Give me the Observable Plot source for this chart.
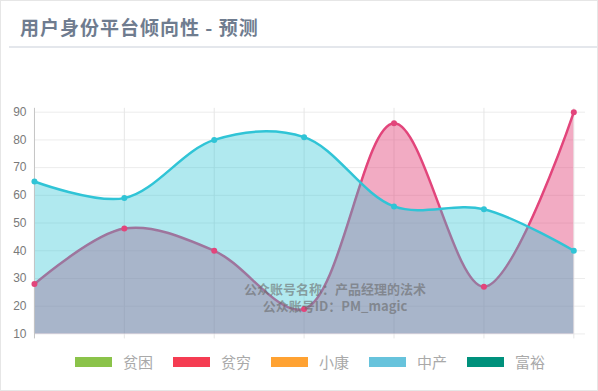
<!DOCTYPE html>
<html>
<head>
<meta charset="utf-8">
<script src="https://cdn.jsdelivr.net/npm/d3@7"></script>
<script src="https://cdn.jsdelivr.net/npm/@observablehq/plot@0.6"></script>
<style>
  html, body { margin: 0; padding: 0; background: #fff; }
  #wrap { position: relative; width: 598px; height: 391px; box-sizing: border-box; border: 1px solid #e6e6e6; overflow: hidden; font-family: "Noto Sans CJK SC", "Noto Sans", sans-serif; }
  #title { position: absolute; left: 19px; top: 13px; font-size: 19px; font-weight: bold; color: #6f7c8f; letter-spacing: 1px; line-height: 26px; }
  #rule { position: absolute; left: 8px; right: 0; top: 45px; height: 2px; background: #e4e7ec; }
  #chart { position: absolute; left: -1px; top: -1px; }
  #legend { position: absolute; left: 74px; top: 350px; display: flex; align-items: center; }
  .item { display: flex; align-items: center; margin-right: 20px; font-size: 15px; color: #a9a9a9; }
  .sw { width: 37px; height: 10px; margin-right: 11px; }
  #wm { position: absolute; left: 214px; width: 240px; top: 280px; text-align: center; font-size: 13px; font-weight: bold; color: rgba(105,105,105,0.6); line-height: 16.5px; white-space: pre-line; }
</style>
</head>
<body>
<div id="wrap">
  <div id="title"></div>
  <div id="rule"></div>
  <div id="chart"></div>
  <div id="wm"></div>
  <div id="legend"></div>
</div>
<script>
const title = "用户身份平台倾向性 - 预测";
const categories = ["1", "2", "3", "4", "5", "6", "7"];
const middleValues = [65, 59, 80, 81, 56, 55, 40];   // 中产
const poorValues = [28, 48, 40, 19, 86, 27, 90];     // 贫穷
const yTicks = [10, 20, 30, 40, 50, 60, 70, 80, 90];
const legendNames = ["贫困", "贫穷", "小康", "中产", "富裕"];
const legendColors = ["#8bc34a", "#f53c52", "#ffa232", "#67c3dc", "#00917c"];
const watermark = ["公众账号名称：产品经理的法术", "公众账号ID：PM_magic"];

document.getElementById("title").textContent = title;
document.getElementById("wm").textContent = watermark.join("\n");
document.getElementById("legend").innerHTML = legendNames.map((n, i) =>
  `<div class="item"><div class="sw" style="background:${legendColors[i]}"></div><span>${n}</span></div>`).join("");

const idx = categories.map((c, i) => i);
const cyanData = idx.map(i => ({x: i, y: middleValues[i]}));
const pinkData = idx.map(i => ({x: i, y: poorValues[i]}));

const cyan = "#30c4d6";
const pink = "#e2457b";
const curve = "catmull-rom";

const chart = Plot.plot({
  width: 598,
  height: 346,
  marginLeft: 34,
  marginRight: 12,
  marginTop: 108,
  marginBottom: 12,
  x: {domain: [0, 6.13], axis: null},
  y: {domain: [10, 91.4], axis: null},
  style: {fontFamily: "'Liberation Sans', Arial, sans-serif", background: "transparent"},
  marks: [
    Plot.ruleY(yTicks, {x1: 0, x2: 6.13, stroke: "#ececec", strokeWidth: 1}),
    Plot.ruleX(idx.slice(1), {y1: 8.2, y2: 91.4, stroke: "#e6e6e6", strokeWidth: 1}),
    Plot.areaY(pinkData, {x: "x", y1: 10, y2: "y", curve, fill: pink, fillOpacity: 0.45}),
    Plot.line(pinkData, {x: "x", y: "y", curve, stroke: pink, strokeWidth: 2.5}),
    Plot.areaY(cyanData, {x: "x", y1: 10, y2: "y", curve, fill: cyan, fillOpacity: 0.38}),
    Plot.line(cyanData, {x: "x", y: "y", curve, stroke: cyan, strokeWidth: 2.5}),
    Plot.ruleX([0], {y1: 8.2, y2: 91.4, stroke: "#c4c4c4", strokeWidth: 1}),
    Plot.dot(pinkData, {x: "x", y: "y", r: 3, fill: pink, stroke: null}),
    Plot.dot(cyanData, {x: "x", y: "y", r: 3, fill: cyan, stroke: null}),
    Plot.axisY(yTicks, {ticks: yTicks, tickSize: 0, tickPadding: 8, fill: "#7a7a7a", fontSize: 12, label: null})
  ]
});
document.getElementById("chart").appendChild(chart);
</script>
</body>
</html>
